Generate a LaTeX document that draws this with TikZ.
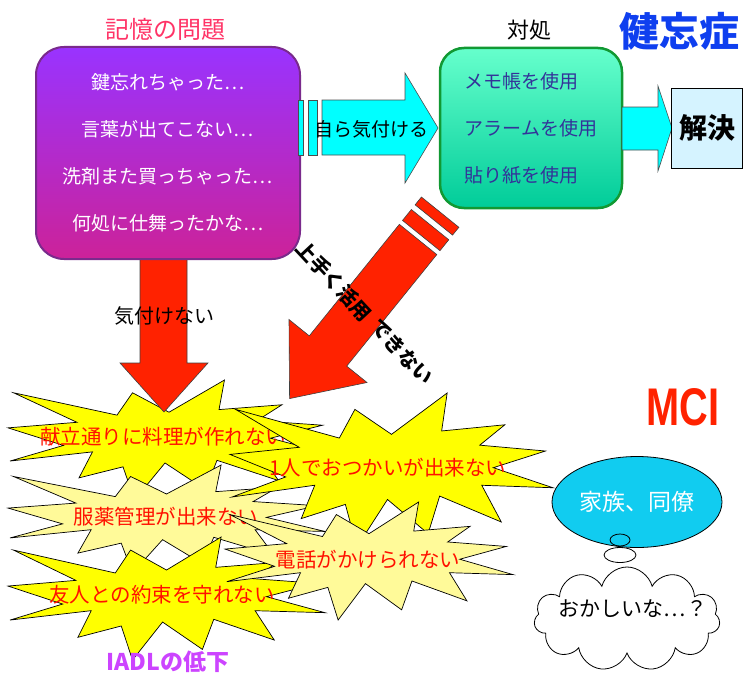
\documentclass[tikz,border=0pt]{standalone}
\usepackage{fontspec}
\setmainfont{Noto Sans CJK JP}
\newfontfamily\latinbold{Liberation Sans}
\usetikzlibrary{shapes.geometric,shapes.symbols}
\definecolor{titlepink}{HTML}{FF3366}
\definecolor{purtop}{HTML}{9933FF}
\definecolor{purbot}{HTML}{CC2299}
\definecolor{purbord}{HTML}{7A2A8C}
\definecolor{mintop}{HTML}{66FFCC}
\definecolor{minbot}{HTML}{00CC99}
\definecolor{greenbord}{HTML}{119933}
\definecolor{navytext}{HTML}{333399}
\definecolor{arrcyan}{HTML}{00FFFF}
\definecolor{solvefill}{HTML}{D5F3FF}
\definecolor{kenblue}{HTML}{0F3FEF}
\definecolor{arrred}{HTML}{FF2200}
\definecolor{burstY}{HTML}{FFFF00}
\definecolor{burstL}{HTML}{FFFA99}
\definecolor{burstText}{HTML}{FF1100}
\definecolor{famblue}{HTML}{11CCF0}
\definecolor{mcired}{HTML}{FF2200}
\definecolor{iadlcol}{HTML}{CC44FF}
\newcommand\setfs[1]{\fontsize{#1}{#1}\selectfont}
\newcommand\burstshape[5]{%
  \begin{scope}[shift={(#1,#2)}, xscale=#3, yscale=#4]
    \filldraw[fill=#5, draw=black, line width=0.7pt, line join=miter]
      (0.5000,0.2685) -- (0.6723,0) -- (0.6553,0.2465) -- (0.8509,0.2063) --
      (0.7732,0.3387) -- (0.9767,0.3767) -- (0.8151,0.4850) -- (1.0,0.6153) --
      (0.7795,0.5992) -- (0.8400,0.8377) -- (0.6491,0.6693) -- (0.6133,0.9137) --
      (0.4876,0.6914) -- (0.3928,1.0) -- (0.3572,0.7235) -- (0.2205,0.8156) --
      (0.2624,0.5989) -- (0.0063,0.6753) -- (0.1723,0.5451) -- (0,0.3988) --
      (0.2142,0.3526) -- (0.0171,0.1063) -- (0.3385,0.2926) -- (0.3867,0.1063) -- cycle;
  \end{scope}}
\tikzset{
  cyanarrow/.style={fill=arrcyan, draw=black!70, line width=0.6pt},
  redarrow/.style={fill=arrred, draw=black!75, line width=0.6pt},
  bursttext/.style={text=burstText, font=\setfs{20.5}, inner sep=0pt},
  diagtext/.style={inner sep=0pt, font=\bfseries\setfs{20}, rotate=-47},
  membox/.style={rectangle, rounded corners=28pt, minimum width=264pt, minimum height=212pt,
    draw=purbord, line width=2pt, top color=purtop, bottom color=purbot, text=white,
    align=center, font={\fontsize{19}{47}\selectfont}},
  copebox/.style={rectangle, rounded corners=24pt, minimum width=182pt, minimum height=160pt,
    draw=greenbord, line width=2.5pt, top color=mintop, bottom color=minbot, text=navytext,
    align=left, font={\fontsize{19}{47}\selectfont}},
  solvebox/.style={rectangle, minimum width=71pt, minimum height=80pt, draw=black,
    line width=0.8pt, fill=solvefill, font=\bfseries\setfs{28}},
  plain/.style={inner sep=0pt}
}
\begin{document}
\begin{tikzpicture}[x=1pt,y=-1pt]
\useasboundingbox (0,0) rectangle (744,677);
% headings
\node[plain, font=\setfs{24}, text=titlepink] (title) at (165,29) {記憶の問題};
\node[plain, font=\setfs{22}] (taisho) at (529,30) {対処};
\node[plain, font=\bfseries\setfs{40}, text=kenblue] (kenbo) at (679,31) {健忘症};
% bursts
\burstshape{8}{380}{322}{120}{burstY}
\node[bursttext] (t1) at (163,437) {献立通りに料理が作れない};
\burstshape{8}{465}{317}{108}{burstL}
\node[bursttext] (t2) at (166,517) {服薬管理が出来ない};
\burstshape{8}{537}{317}{123}{burstY}
\node[bursttext] (t3) at (162,595) {友人との約束を守れない};
\burstshape{230}{393}{323}{154}{burstY}
\node[bursttext] (t4) at (388,468) {1人でおつかいが出来ない};
\burstshape{225}{502}{288}{118}{burstL}
\node[bursttext] (t5) at (368,560) {電話がかけられない};
% red vertical arrow
\draw[redarrow] (140,259) -- (187,259) -- (187,363) -- (208,363) -- (164,412) -- (120,363) -- (140,363) -- cycle;
\node[plain, font=\setfs{20}] (kizukenai) at (164,316) {気付けない};
% red diagonal arrow
\coordinate (H) at (328,351);
\begin{scope}[shift={(H)}, x={(-0.63pt,-0.78pt)}, y={(0.78pt,-0.63pt)}]
  \draw[redarrow] (-178,-24) -- (-168,-24) -- (-168,24) -- (-178,24) -- cycle;
  \draw[redarrow] (-162,-24) -- (-148,-24) -- (-148,24) -- (-162,24) -- cycle;
  \draw[redarrow] (-143,-24) -- (0,-24) -- (0,-50) -- (61,0) -- (0,50) -- (0,24) -- (-143,24) -- cycle;
\end{scope}
\node[diagtext] (jouzu1) at (334,281) {上手く活用};
\node[diagtext] (jouzu2) at (402,352) {できない};
% memory box
\node[membox] (mem) at (168,153) {鍵忘れちゃった…\\言葉が出てこない…\\洗剤また買っちゃった…\\何処に仕舞ったかな…};
% cyan arrow 1
\draw[cyanarrow] (298,100) rectangle (303,155);
\draw[cyanarrow] (308,100) rectangle (317,155);
\draw[cyanarrow] (322,100) -- (405,100) -- (405,73) -- (438,128) -- (405,183) -- (405,155) -- (322,155) -- cycle;
\node[plain, font=\setfs{19}] (self) at (371,129) {自ら気付ける};
% coping box
\node[copebox] (cope) at (531,128) {メモ帳を使用\\アラームを使用\\貼り紙を使用};
% cyan arrow 2
\draw[cyanarrow] (622,107) -- (658,107) -- (658,86) -- (672,128) -- (658,171) -- (658,150) -- (622,150) -- cycle;
\node[solvebox] (solve) at (707,128) {解決};
% MCI side
\node[ellipse, draw=black, line width=0.8pt, fill=famblue, minimum width=170pt, minimum height=91pt, inner sep=0pt,
  text=white, font=\setfs{23}] (fam) at (637,502) {家族、同僚};
\node[ellipse, draw=black, line width=0.8pt, fill=famblue, minimum width=20pt, minimum height=12pt, inner sep=0pt] (b1) at (620,540) {};
\node[ellipse, draw=black, line width=0.8pt, fill=white, minimum width=32pt, minimum height=15pt, inner sep=0pt] (b2) at (620,555) {};
\node[cloud, draw=black, line width=0.8pt, fill=white, cloud puffs=11, aspect=1.8, minimum width=186pt, minimum height=104pt, inner sep=0pt] (cloud) at (627,619) {};
\node[plain, font=\setfs{21}] (okashii) at (633,609) {おかしいな…？};
\node[plain, font=\latinbold\bfseries\setfs{53}, text=mcired, xscale=0.75] (mci) at (683,407) {MCI};
\node[plain, font=\bfseries\setfs{23}, text=iadlcol] (iadl) at (168,662) {IADLの低下};
\end{tikzpicture}
\end{document}
